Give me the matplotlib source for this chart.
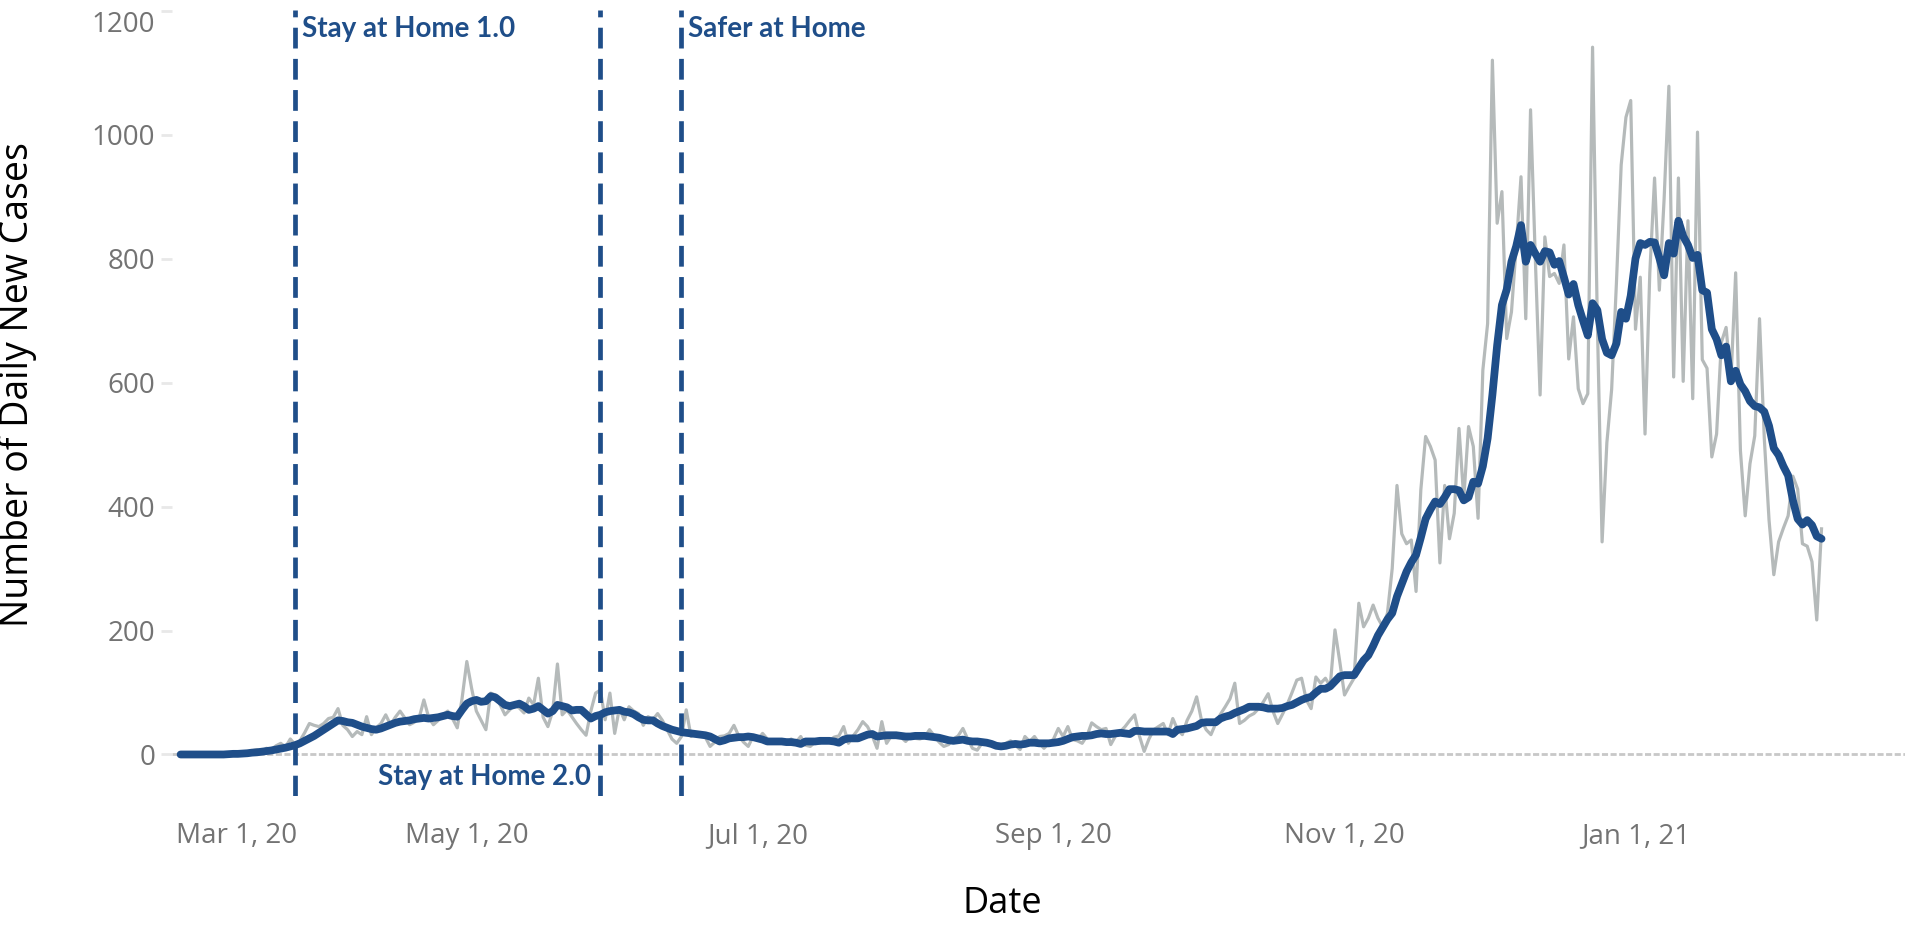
import matplotlib.pyplot as plt
import pandas as pd

# daily new cases, one value per day starting 2020-03-02
START_DATE = "2020-03-02"

daily_cases = [
    0, 0, 0, 0, 0, 0, 0, 0, 1, 0,
    1, 2, 1, 3, 4, 6, 8, 5, 10, 8,
    14, 18, 12, 25, 16, 22, 35, 50, 47, 45,
    50, 58, 60, 74, 47, 40, 29, 37, 32, 61,
    32, 43, 50, 64, 48, 60, 70, 59, 48, 52,
    59, 88, 60, 48, 55, 64, 70, 58, 43, 90,
    150, 107, 70, 55, 40, 99, 96, 80, 64, 72,
    80, 75, 67, 91, 80, 123, 60, 45, 70, 146,
    64, 72, 61, 50, 40, 31, 70, 99, 104, 56,
    99, 34, 75, 56, 77, 70, 66, 47, 61, 56,
    66, 55, 40, 25, 18, 29, 72, 29, 35, 31,
    28, 13, 20, 29, 30, 34, 47, 30, 20, 13,
    29, 24, 34, 25, 21, 20, 22, 18, 25, 20,
    29, 15, 13, 20, 18, 24, 22, 28, 30, 45,
    18, 30, 40, 53, 45, 30, 10, 53, 18, 30,
    34, 28, 21, 30, 26, 25, 28, 40, 30, 20,
    13, 16, 25, 30, 42, 25, 10, 7, 18, 20,
    16, 16, 12, 18, 22, 15, 8, 29, 21, 29,
    18, 10, 18, 25, 42, 29, 45, 24, 22, 18,
    30, 51, 45, 40, 42, 16, 30, 37, 45, 55,
    64, 30, 5, 25, 40, 45, 50, 32, 58, 40,
    32, 55, 70, 93, 56, 40, 32, 50, 65, 77,
    90, 115, 50, 55, 62, 66, 74, 85, 98, 70,
    50, 65, 81, 100, 120, 123, 88, 74, 125, 115,
    123, 110, 201, 150, 96, 110, 123, 244, 206, 220,
    241, 220, 206, 228, 300, 434, 356, 340, 346, 263,
    427, 513, 497, 475, 309, 434, 348, 389, 526, 413,
    529, 497, 381, 620, 695, 1120, 857, 908, 671, 714,
    820, 932, 703, 1040, 800, 580, 835, 771, 776, 760,
    822, 638, 706, 590, 566, 582, 1141, 700, 343, 503,
    589, 760, 951, 1028, 1055, 686, 770, 517, 777, 930,
    749, 896, 1078, 609, 930, 602, 861, 574, 1004, 637,
    623, 480, 517, 665, 689, 602, 777, 490, 385, 469,
    514, 703, 510, 378, 290, 343, 365, 385, 449, 428,
    340, 336, 311, 217, 364,
]

# 7-day average, same days
avg_cases = [
    0, 0, 0, 0, 0, 0, 0, 0, 0, 0,
    0.5, 1, 1, 1.5, 2, 3, 3.5, 4.5, 5.5, 6.5,
    8, 9.5, 11, 13, 15, 18, 22, 26, 30, 35,
    40, 45, 50, 55, 54, 52, 51, 48, 45, 43,
    41, 40, 42, 45, 48, 51, 53, 54, 55, 57,
    58, 59, 58, 59, 60, 62, 64, 62, 61, 72,
    82, 86, 88, 85, 86, 94, 92, 86, 80, 78,
    80, 82, 78, 72, 74, 78, 72, 66, 70, 80,
    78, 76, 71, 72, 72, 65, 58, 62, 64, 68,
    70, 71, 72, 69, 68, 65, 60, 56, 55, 55,
    50, 46, 43, 40, 38, 36, 35, 34, 33, 32,
    31, 29, 25, 21, 23, 26, 27, 28, 28, 29,
    28, 26, 24, 21, 21, 21, 21, 20, 20, 19,
    17, 21, 21, 21, 22, 22, 22, 21, 19, 24,
    26, 26, 26, 29, 32, 33, 29, 30, 31, 31,
    31, 30, 29, 29, 30, 30, 30, 29, 28, 27,
    25, 23, 22, 23, 24, 22, 21, 21, 20, 19,
    17, 14, 13, 14, 16, 17, 16, 17, 19, 19,
    18, 18, 18, 19, 20, 22, 25, 28, 29, 30,
    30, 31, 33, 34, 33, 33, 34, 35, 34, 33,
    38, 38, 37, 37, 37, 37, 37, 37, 33, 40,
    41, 42, 44, 46, 51, 52, 52, 52, 58, 61,
    63, 67, 70, 73, 77, 77, 77, 76, 74, 74,
    74, 75, 78, 80, 84, 88, 91, 93, 100, 106,
    106, 110, 118, 126, 128, 128, 128, 140, 152, 160,
    175, 192, 205, 218, 228, 255, 275, 295, 310, 322,
    350, 380, 395, 408, 404, 415, 428, 428, 426, 410,
    415, 440, 437, 465, 510, 580, 660, 725, 750, 795,
    820, 854, 795, 822, 808, 795, 812, 810, 790, 796,
    770, 742, 759, 725, 700, 676, 728, 717, 670, 648,
    644, 663, 714, 703, 740, 800, 825, 822, 827, 826,
    801, 773, 825, 808, 861, 836, 822, 801, 806, 749,
    745, 686, 670, 644, 658, 602, 619, 597, 586, 570,
    562, 560, 553, 530, 494, 483, 465, 450, 410, 380,
    371, 378, 370, 352, 348,
]

event_dates = ["2020-03-26", "2020-05-29", "2020-06-15"]
event_labels = ["Stay at Home 1.0", "Stay at Home 2.0", "Safer at Home"]

x_tick_dates = ["2020-03-01", "2020-05-01", "2020-07-01",
                "2020-09-01", "2020-11-01", "2021-01-01"]
x_tick_labels = ["Mar 1, 20", "May 1, 20", "Jul 1, 20",
                 "Sep 1, 20", "Nov 1, 20", "Jan 1, 21"]
y_ticks = [0, 200, 400, 600, 800, 1000, 1200]

BLUE = "#1f4e89"
GREY = "#b5baba"
TICK_GREY = "#737373"


def main() -> None:
    dates = pd.date_range(START_DATE, periods=len(daily_cases), freq="D")

    fig = plt.figure(figsize=(19.05, 9.27), dpi=100)
    ax = fig.add_axes([0.0903, 0.1413, 0.9097, 0.8479])

    ax.axhline(0, color="#c8c8c8", lw=2.0, ls=(0, (2.2, 0.9)), zorder=1)
    ax.plot(dates, daily_cases, color=GREY, lw=2.3, zorder=2)
    ax.plot(dates, avg_cases, color=BLUE, lw=5.6,
            solid_capstyle="round", solid_joinstyle="round", zorder=3)

    for d in event_dates:
        ax.axvline(pd.Timestamp(d), color=BLUE, lw=3.4,
                   ls=(0, (4.4, 2.2)), zorder=4)

    text_style = dict(color=BLUE, fontweight="bold", fontsize=20,
                      family="Lato", textcoords="offset points", va="center")
    ax.annotate(event_labels[0], xy=(pd.Timestamp(event_dates[0]), 1170),
                xytext=(5, 0), ha="left", **text_style)
    ax.annotate(event_labels[1], xy=(pd.Timestamp(event_dates[1]), -36),
                xytext=(-7, 0), ha="right", **text_style)
    ax.annotate(event_labels[2], xy=(pd.Timestamp(event_dates[2]), 1170),
                xytext=(5, 0), ha="left", **text_style)

    start = pd.Timestamp("2020-03-01")
    ax.set_xlim(start - pd.Timedelta(days=0.8), start + pd.Timedelta(days=362.5))
    ax.set_ylim(-67, 1201)

    ax.set_xticks([pd.Timestamp(d) for d in x_tick_dates])
    ax.set_xticklabels(x_tick_labels, family="Open Sans", fontsize=20,
                       color=TICK_GREY)
    ax.get_xticklabels()[0].set_ha("left")
    ax.tick_params(axis="x", length=0, pad=19)

    ax.set_yticks(y_ticks)
    ax.set_yticklabels([str(v) for v in y_ticks], family="Open Sans",
                       fontsize=20, color=TICK_GREY)
    top_label = ax.get_yticklabels()[-1]
    top_label.set_va("top")
    ax.tick_params(axis="y", length=8, width=2, color="#e8e8e8", pad=4)

    for spine in ax.spines.values():
        spine.set_visible(False)

    ax.set_ylabel("Number of Daily New Cases", family="Open Sans", fontsize=27)
    ax.yaxis.set_label_coords(-0.078, 0.524)
    ax.set_xlabel("Date", family="Open Sans", fontsize=26)
    ax.xaxis.label.set_va("center")
    ax.xaxis.set_label_coords(0.479, -0.138)

    fig.savefig("out.png", dpi=100)


if __name__ == "__main__":
    main()
